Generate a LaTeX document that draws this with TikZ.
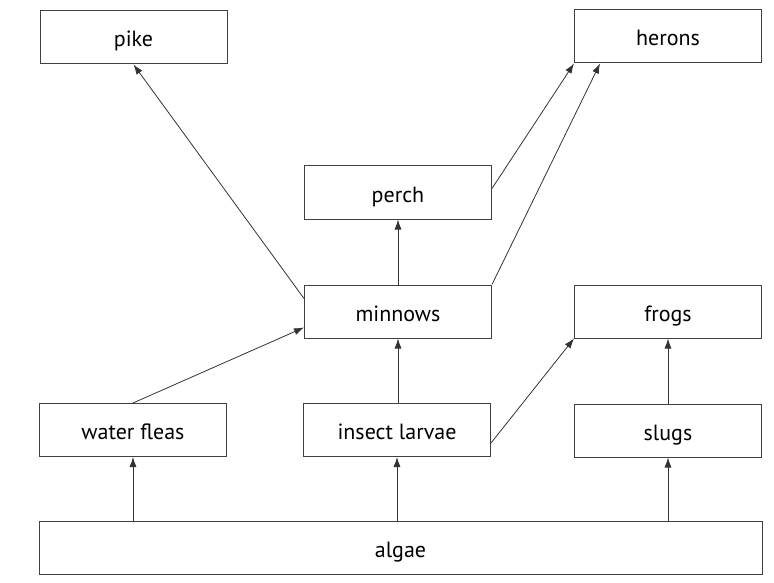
\documentclass[tikz,border=0pt]{standalone}
\usepackage{fontspec}
\setmainfont{PT Sans}
\usetikzlibrary{arrows.meta,calc}
\begin{document}
\begin{tikzpicture}[x=1pt,y=-1pt,
  box/.style={draw=black!75,line width=1pt,minimum width=187pt,minimum height=53pt,inner sep=0pt,font=\fontsize{22}{26}\selectfont,text=black,text height=19pt,text depth=0pt},
  arr/.style={draw=black!80,line width=0.8pt,-{Latex[length=10pt,width=7pt]}}]
\useasboundingbox (0,0) rectangle (774,583);
\node[box] (pike) at (133.5,37.5) {pike};
\node[box] (herons) at (668,36.5) {herons};
\node[box] (perch) at (398,192.5) {perch};
\node[box] (minnows) at (398,311.5) {minnows};
\node[box] (frogs) at (668,311.5) {frogs};
\node[box] (fleas) at (133,430) {water fleas};
\node[box] (larvae) at (397,430) {insect larvae};
\node[box] (slugs) at (668,430.5) {slugs};
\node[box,minimum width=723pt] (algae) at (400.5,547.5) {algae};
\draw[arr] (algae.north -| fleas.south) -- (fleas.south);
\draw[arr] (algae.north -| larvae.south) -- (larvae.south);
\draw[arr] (algae.north -| slugs.south) -- (slugs.south);
\draw[arr] (slugs.north) -- (frogs.south);
\draw[arr] (larvae.north -| minnows.south) -- (minnows.south);
\draw[arr] (minnows.north) -- (perch.south);
\draw[arr] (fleas.north) -- ($(minnows.south west)+(0,-11)$);
\draw[arr] ($(larvae.south east)+(0,-14)$) -- (frogs.south west);
\draw[arr] ($(minnows.north west)+(0,14)$) -- (pike.south);
\draw[arr] ($(perch.east)+(0,-4)$) -- (herons.south west);
\draw[arr] (minnows.north east) -- ($(herons.south west)+(26,0)$);
\end{tikzpicture}
\end{document}
